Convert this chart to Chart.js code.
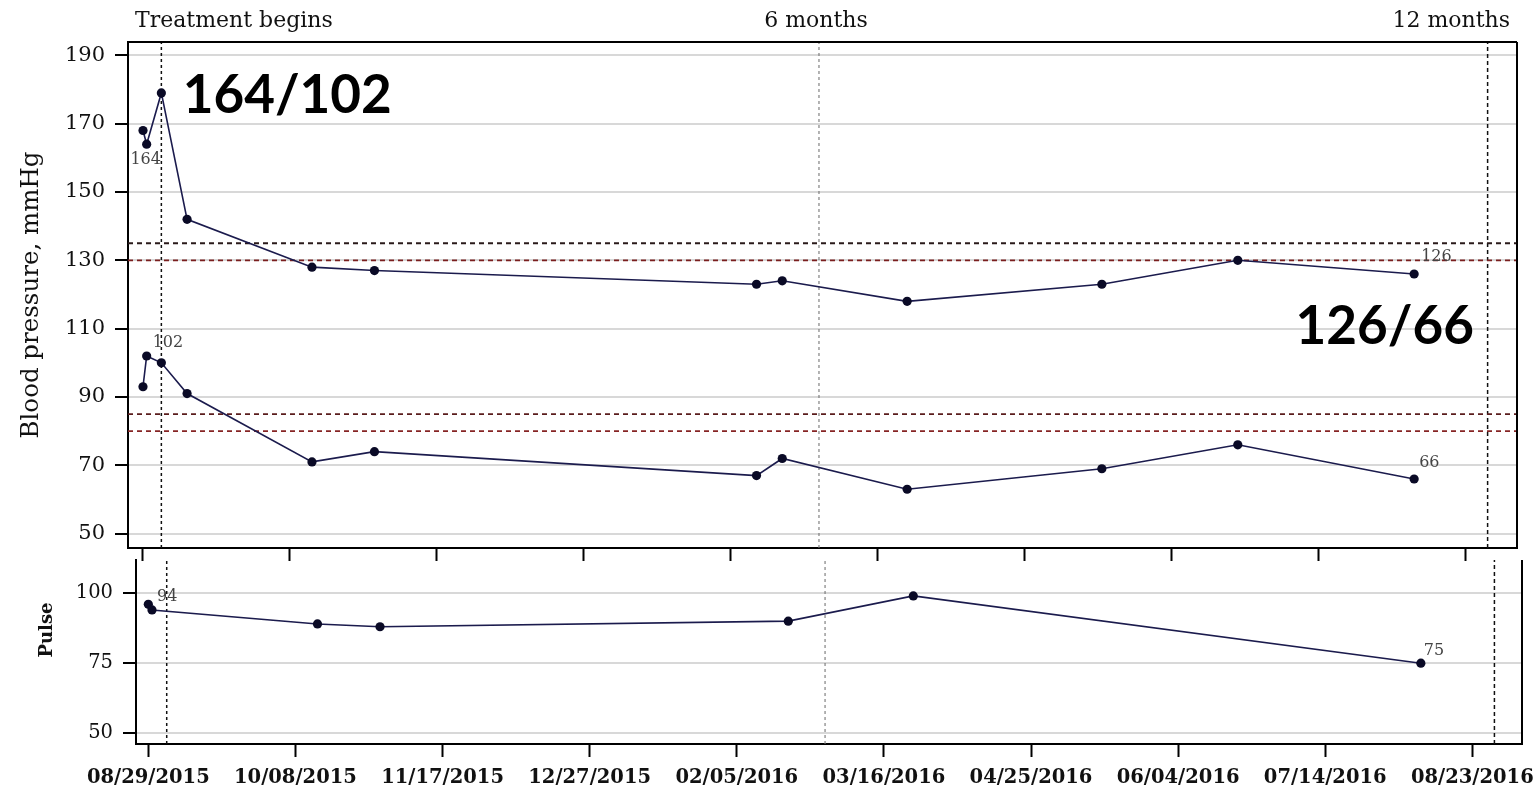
<!DOCTYPE html>
<html>
<head>
<meta charset="utf-8">
<title>Blood pressure and pulse</title>
<script src="https://cdn.jsdelivr.net/npm/chart.js@4.4.1/dist/chart.umd.min.js"></script>
<style>
  html, body { margin: 0; padding: 0; background: #fff; }
  #wrap { position: relative; width: 1537px; height: 789px; overflow: hidden; }
  #bp { position: absolute; left: 0; top: 0; }
  #pulse { position: absolute; left: 0; top: 552px; }
</style>
</head>
<body>
<div id="wrap">
  <canvas id="bp" width="1537" height="562"></canvas>
  <canvas id="pulse" width="1537" height="237"></canvas>
</div>
<script>
// Readings (mm/dd/yyyy)
const bpDates = ['08/29/2015', '08/30/2015', '09/03/2015', '09/10/2015', '10/14/2015', '10/31/2015',
  '02/12/2016', '02/19/2016', '03/24/2016', '05/16/2016', '06/22/2016', '08/09/2016'];
const systolic = [168, 164, 179, 142, 128, 127, 123, 124, 118, 123, 130, 126];
const diastolic = [93, 102, 100, 91, 71, 74, 67, 72, 63, 69, 76, 66];

const pulseDates = ['08/29/2015', '08/30/2015', '10/14/2015', '10/31/2015', '02/19/2016', '03/24/2016', '08/09/2016'];
const pulse = [96, 94, 89, 88, 90, 99, 75];

// Axes
const xTickLabels = ['08/29/2015', '10/08/2015', '11/17/2015', '12/27/2015', '02/05/2016',
  '03/16/2016', '04/25/2016', '06/04/2016', '07/14/2016', '08/23/2016'];
const bpTicks = [50, 70, 90, 110, 130, 150, 170, 190];
const pulseTicks = [50, 75, 100];

// Reference levels and milestones
const systolicRefs = [135, 130];
const diastolicRefs = [85, 80];
const milestoneDates = ['09/03/2015', '02/29/2016', '08/29/2016'];
const milestoneLabels = ['Treatment begins', '6 months', '12 months'];

// days since 08/29/2015
function dayOf(s) {
  const [m, d, y] = s.split('/').map(Number);
  return (Date.UTC(y, m - 1, d) - Date.UTC(2015, 7, 29)) / 86400000;
}

const BP_X = [-4.08, 374.0];
const BP_Y = [45.8, 193.9];
const PULSE_X = [-3.35, 373.5];
const PULSE_Y = [46.2, 111.8];

const LINE = '#1b1b4d';
const DOT = '#0a0a26';
const SERIF = '"DejaVu Serif", "Liberation Serif", serif';

function series(dates, values) {
  return {
    data: dates.map((d, i) => ({ x: dayOf(d), y: values[i] })),
    borderColor: LINE,
    borderWidth: 1.6,
    pointRadius: 4.6,
    pointBackgroundColor: DOT,
    pointBorderColor: DOT,
    pointBorderWidth: 0,
    tension: 0
  };
}

function hLine(v, xr, color) {
  return {
    data: [{ x: xr[0], y: v }, { x: xr[1], y: v }],
    borderColor: color, borderWidth: 1.8, borderDash: [5, 4], pointRadius: 0
  };
}

function vLine(date, yr, color, width, dash) {
  return {
    data: [{ x: dayOf(date), y: yr[0] }, { x: dayOf(date), y: yr[1] }],
    borderColor: color, borderWidth: width, borderDash: dash, pointRadius: 0
  };
}

function milestoneLines(yr) {
  return [
    vLine(milestoneDates[0], yr, '#111', 1.5, [3, 3]),
    vLine(milestoneDates[1], yr, '#777', 1.1, [3, 3]),
    vLine(milestoneDates[2], yr, '#111', 1.5, [4, 3])
  ];
}

// extra drawing: frame, value labels, annotations
const extras = {
  id: 'extras',
  afterDraw(chart, args, opts) {
    const { ctx, chartArea: ca } = chart;
    const xs = chart.scales.x, ys = chart.scales.y;
    ctx.save();

    // frame
    ctx.strokeStyle = '#000';
    ctx.lineWidth = 2;
    ctx.beginPath();
    if (opts.frameTop) { ctx.moveTo(ca.left, ca.top); ctx.lineTo(ca.right, ca.top); }
    ctx.moveTo(ca.right, ca.top); ctx.lineTo(ca.right, ca.bottom + 1);
    ctx.stroke();

    // value labels next to points
    ctx.fillStyle = '#444';
    ctx.font = '16px ' + SERIF;
    ctx.textBaseline = 'middle';
    (opts.pointLabels || []).forEach(p => {
      const el = chart.getDatasetMeta(p.ds).data[p.i];
      const val = chart.data.datasets[p.ds].data[p.i].y;
      ctx.textAlign = p.align;
      ctx.fillText(String(val), el.x + p.dx, el.y + p.dy);
    });

    // big readings
    ctx.fillStyle = '#000';
    ctx.font = 'bold 53px Lato, "Open Sans", sans-serif';
    ctx.textBaseline = 'alphabetic';
    (opts.big || []).forEach(b => {
      ctx.textAlign = b.align;
      ctx.fillText(b.text, xs.getPixelForValue(b.x), ys.getPixelForValue(b.y));
    });

    // milestone captions above the panel
    if (opts.milestones) {
      ctx.font = '22px ' + SERIF;
      ctx.fillStyle = '#111';
      const pos = [
        { align: 'left', x: ca.left + 7 },
        { align: 'center', x: xs.getPixelForValue(dayOf(milestoneDates[1])) - 3 },
        { align: 'right', x: ca.right - 7 }
      ];
      milestoneLabels.forEach((t, i) => {
        ctx.textAlign = pos[i].align;
        ctx.fillText(t, pos[i].x, 27);
      });
    }

    // side title
    if (opts.sideTitle) {
      ctx.translate(opts.sideTitle.x, opts.sideTitle.y);
      ctx.rotate(-Math.PI / 2);
      ctx.font = opts.sideTitle.font;
      ctx.fillStyle = '#111';
      ctx.textAlign = 'center';
      ctx.textBaseline = 'middle';
      ctx.fillText(opts.sideTitle.text, 0, 0);
    }
    ctx.restore();
  }
};

function xAxis(range, height, showLabels) {
  return {
    type: 'linear',
    min: range[0],
    max: range[1],
    afterBuildTicks: s => { s.ticks = xTickLabels.map(l => ({ value: dayOf(l) })); },
    afterFit: s => { s.height = height; s.paddingLeft = 0; s.paddingRight = 0; },
    grid: { drawOnChartArea: false, drawTicks: true, tickLength: 13, tickColor: '#000', tickWidth: 2 },
    border: { display: true, color: '#000', width: 2 },
    ticks: {
      autoSkip: false,
      maxRotation: 0,
      padding: 9,
      color: '#111',
      font: { family: SERIF, size: 19.5, weight: 'bold' },
      callback: (v, i) => showLabels ? xTickLabels[i] : ''
    }
  };
}

function yAxis(range, ticks, width, size, title) {
  return {
    min: range[0],
    max: range[1],
    afterBuildTicks: s => { s.ticks = ticks.map(v => ({ value: v })); },
    afterFit: s => { s.width = width; s.paddingTop = 0; s.paddingBottom = 0; },
    grid: { color: '#d8d8d8', lineWidth: 2, tickLength: 13, tickColor: '#000', tickWidth: 2 },
    border: { display: true, color: '#000', width: 2 },
    ticks: { padding: 10, color: '#111', font: { family: SERIF, size: size } },
    title: title
  };
}

const common = {
  responsive: false,
  animation: false,
  events: [],
  plugins: { legend: { display: false }, tooltip: { enabled: false } }
};

// Blood pressure panel
new Chart(document.getElementById('bp'), {
  type: 'line',
  data: {
    datasets: [
      series(bpDates, systolic),
      series(bpDates, diastolic),
      hLine(systolicRefs[0], BP_X, '#2a1a1a'),
      hLine(systolicRefs[1], BP_X, '#7a1e1e'),
      hLine(diastolicRefs[0], BP_X, '#5a1c1c'),
      hLine(diastolicRefs[1], BP_X, '#862424'),
      ...milestoneLines(BP_Y)
    ]
  },
  options: {
    ...common,
    layout: { padding: { left: 0, top: 42, right: 20, bottom: 0 } },
    scales: {
      x: xAxis(BP_X, 14, false),
      y: yAxis(BP_Y, bpTicks, 128, 21, {
        display: true,
        text: 'Blood pressure, mmHg',
        color: '#111',
        font: { family: SERIF, size: 24.5 },
        padding: { top: 17, bottom: 0 }
      })
    },
    plugins: {
      ...common.plugins,
      extras: {
        frameTop: true,
        milestones: true,
        pointLabels: [
          { ds: 0, i: 1, align: 'center', dx: -1, dy: 16 },
          { ds: 1, i: 1, align: 'left', dx: 6, dy: -13 },
          { ds: 0, i: 11, align: 'left', dx: 7, dy: -17 },
          { ds: 1, i: 11, align: 'left', dx: 5, dy: -16 }
        ],
        big: [
          { text: systolic[1] + '/' + diastolic[1], x: 10.8, y: 173.1, align: 'left' },
          { text: systolic[11] + '/' + diastolic[11], x: 362.3, y: 105.4, align: 'right' }
        ]
      }
    }
  },
  plugins: [extras]
});

// Pulse panel
new Chart(document.getElementById('pulse'), {
  type: 'line',
  data: {
    datasets: [
      series(pulseDates, pulse),
      ...milestoneLines(PULSE_Y)
    ]
  },
  options: {
    ...common,
    layout: { padding: { left: 0, top: 8, right: 15, bottom: 0 } },
    scales: {
      x: xAxis(PULSE_X, 45, true),
      y: yAxis(PULSE_Y, pulseTicks, 136, 19.5, { display: false })
    },
    plugins: {
      ...common.plugins,
      extras: {
        frameTop: false,
        milestones: false,
        pointLabels: [
          { ds: 0, i: 1, align: 'left', dx: 5, dy: -13 },
          { ds: 0, i: 6, align: 'left', dx: 3, dy: -12 }
        ],
        sideTitle: { text: 'Pulse', x: 47, y: 78, font: 'bold 18px ' + SERIF }
      }
    }
  },
  plugins: [extras]
});
</script>
</body>
</html>
